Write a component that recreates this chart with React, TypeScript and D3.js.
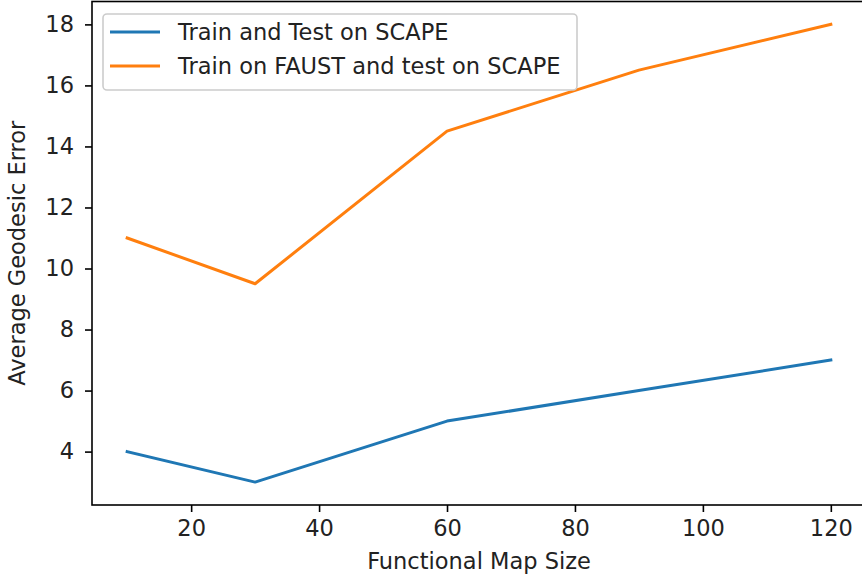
import React, { useEffect, useRef } from 'react';
import * as d3 from 'd3';

const mapSizes = [10, 30, 60, 90, 120];
const trainTestScape = [4, 3, 5, 6, 7];
const faustTestScape = [11, 9.5, 14.5, 16.5, 18];
const seriesNames = ['Train and Test on SCAPE', 'Train on FAUST and test on SCAPE'];
const seriesColors = ['#1f77b4', '#ff7f0e'];
const xTicks = [20, 40, 60, 80, 100, 120];
const yTicks = [4, 6, 8, 10, 12, 14, 16, 18];

const W = 862;
const H = 578;
const FONT = 'DejaVu Sans, sans-serif';
const FS = 22.5;

export default function App() {
  const ref = useRef<SVGSVGElement | null>(null);

  useEffect(() => {
    const svg = d3.select(ref.current);
    svg.selectAll('*').remove();

    const left = 92, right = 866, top = 1.5, bottom = 505;

    // matplotlib style 5% margins
    const x = d3.scaleLinear().domain([4.5, 125.5]).range([left, right]);
    const y = d3.scaleLinear().domain([2.25, 18.75]).range([bottom, top]);

    svg.append('rect').attr('width', W).attr('height', H).attr('fill', '#fff');

    const series = [trainTestScape, faustTestScape];
    const line = d3.line<number>()
      .x((d, i) => x(mapSizes[i]))
      .y(d => y(d));

    series.forEach((vals, k) => {
      svg.append('path')
        .datum(vals)
        .attr('d', line)
        .attr('fill', 'none')
        .attr('stroke', seriesColors[k])
        .attr('stroke-width', 3)
        .attr('stroke-linejoin', 'round')
        .attr('stroke-linecap', 'square');
    });

    // x axis
    const gx = svg.append('g')
      .attr('transform', `translate(0,${bottom})`)
      .call(d3.axisBottom(x).tickValues(xTicks).tickSize(7).tickPadding(8).tickFormat(d3.format('d')));
    gx.select('.domain').remove();
    gx.selectAll('line').attr('stroke', '#000').attr('stroke-width', 1.6);
    gx.selectAll('text').attr('font-family', FONT).attr('font-size', FS).attr('fill', '#222');

    // y axis
    const gy = svg.append('g')
      .attr('transform', `translate(${left},0)`)
      .call(d3.axisLeft(y).tickValues(yTicks).tickSize(7).tickPadding(11).tickFormat(d3.format('d')));
    gy.select('.domain').remove();
    gy.selectAll('line').attr('stroke', '#000').attr('stroke-width', 1.6);
    gy.selectAll('text').attr('font-family', FONT).attr('font-size', FS).attr('fill', '#222');

    // spines
    svg.append('rect')
      .attr('x', left).attr('y', top)
      .attr('width', right - left).attr('height', bottom - top)
      .attr('fill', 'none').attr('stroke', '#000').attr('stroke-width', 1.6);

    // axis labels
    svg.append('text')
      .attr('x', (left + right) / 2).attr('y', 569)
      .attr('text-anchor', 'middle')
      .attr('font-family', FONT).attr('font-size', FS).attr('fill', '#222')
      .text('Functional Map Size');

    svg.append('text')
      .attr('transform', `translate(25,${(top + bottom) / 2}) rotate(-90)`)
      .attr('text-anchor', 'middle')
      .attr('font-family', FONT).attr('font-size', FS).attr('fill', '#222')
      .text('Average Geodesic Error');

    // legend
    const lg = svg.append('g');
    lg.append('rect')
      .attr('x', 103).attr('y', 14).attr('width', 474).attr('height', 76).attr('rx', 4)
      .attr('fill', '#fff').attr('fill-opacity', 0.8)
      .attr('stroke', '#ccc').attr('stroke-width', 1.6);
    seriesNames.forEach((name, k) => {
      const cy = 32 + k * 34;
      lg.append('line')
        .attr('x1', 110).attr('x2', 160).attr('y1', cy).attr('y2', cy)
        .attr('stroke', seriesColors[k]).attr('stroke-width', 3);
      lg.append('text')
        .attr('x', 178).attr('y', cy + 8)
        .attr('font-family', FONT).attr('font-size', FS).attr('fill', '#222')
        .text(name);
    });
  }, []);

  return (
    <div style={{ position: 'absolute', left: 0, top: 0 }}>
      <svg ref={ref} width={W} height={H} style={{ display: 'block' }} />
    </div>
  );
}
